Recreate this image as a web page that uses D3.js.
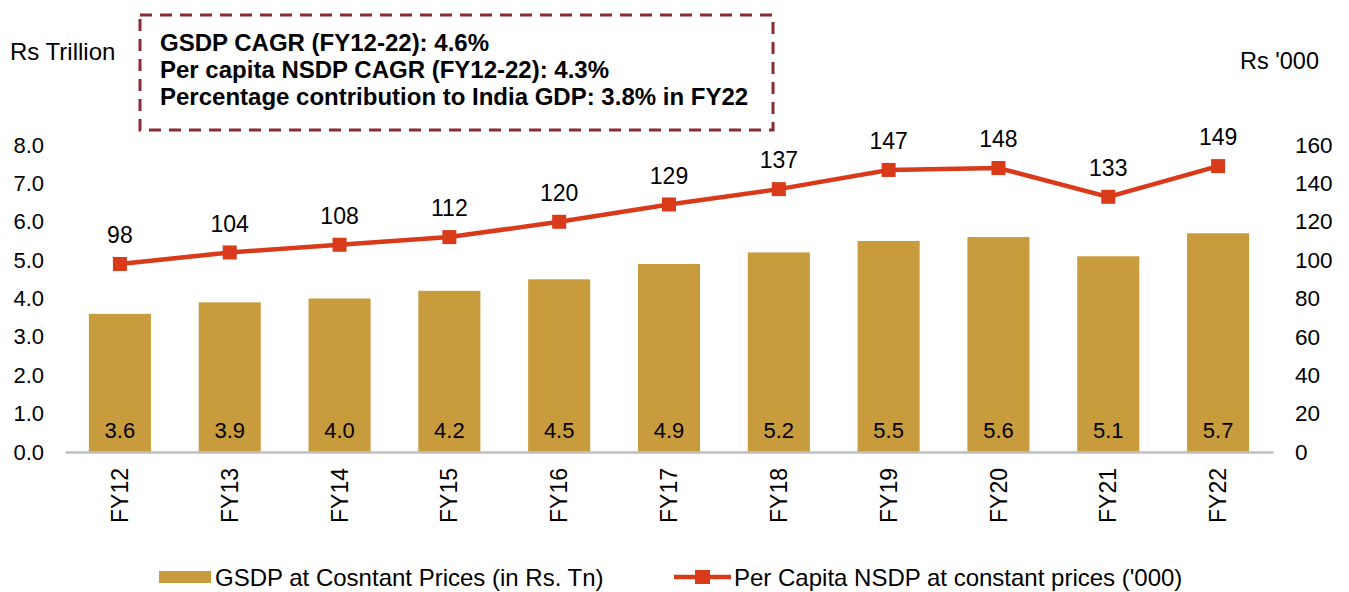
<!DOCTYPE html>
<html><head><meta charset="utf-8">
<script src="https://cdn.jsdelivr.net/npm/d3@7"></script>
<style>body{margin:0;background:#fff}svg{display:block;font-family:"Liberation Sans",Arial,sans-serif}</style>
</head><body><svg id="c" width="1349" height="592"></svg>
<script>
const categories = ["FY12","FY13","FY14","FY15","FY16","FY17","FY18","FY19","FY20","FY21","FY22"];
const gsdp = [3.6,3.9,4.0,4.2,4.5,4.9,5.2,5.5,5.6,5.1,5.7];
const perCapita = [98,104,108,112,120,129,137,147,148,133,149];
const leftTicks = [0,1,2,3,4,5,6,7,8];
const rightTicks = [0,20,40,60,80,100,120,140,160];
const boxLines = ["GSDP CAGR (FY12-22): 4.6%","Per capita NSDP CAGR (FY12-22): 4.3%","Percentage contribution to India GDP: 3.8% in FY22"];
const legendLabels = ["GSDP at Cosntant Prices (in Rs. Tn)","Per Capita NSDP at constant prices ('000)"];

const barColor = "#C89B3C", lineColor = "#D83A1A";
const svg = d3.select("#c");
const x = d3.scaleBand().domain(categories).range([65,1273]).paddingInner(0.435).paddingOuter(0.2175);
const yL = d3.scaleLinear().domain([0,8]).range([452,145]);
const yR = d3.scaleLinear().domain([0,160]).range([452,145]);

const la = svg.append("g").attr("transform","translate(44,0)").call(d3.axisLeft(yL).tickValues(leftTicks).tickFormat(d3.format(".1f")).tickSize(0).tickPadding(0));
la.select(".domain").remove();
la.selectAll("text").attr("font-size",22).attr("fill","#000").attr("font-family","Liberation Sans, Arial");
const ra = svg.append("g").attr("transform","translate(1295,0)").call(d3.axisRight(yR).tickValues(rightTicks).tickSize(0).tickPadding(0));
ra.select(".domain").remove();
ra.selectAll("text").attr("font-size",22.5).attr("fill","#000").attr("font-family","Liberation Sans, Arial");

svg.append("g").selectAll("rect").data(gsdp).join("rect")
  .attr("x",(d,i)=>x(categories[i])).attr("width",x.bandwidth())
  .attr("y",d=>yL(d)).attr("height",d=>yL(0)-yL(d)).attr("fill",barColor);
svg.append("g").selectAll("text").data(gsdp).join("text")
  .attr("x",(d,i)=>x(categories[i])+x.bandwidth()/2).attr("y",430)
  .attr("text-anchor","middle").attr("font-size",22).attr("dy","0.35em").text(d=>d3.format(".1f")(d));

const xa = svg.append("g").attr("transform","translate(0,452)").call(d3.axisBottom(x).tickSize(0).tickPadding(0));
xa.select(".domain").attr("stroke","#bfbfbf").attr("stroke-width",2.5);
xa.selectAll("text").attr("font-size",23).attr("fill","#000").attr("font-family","Liberation Sans, Arial")
  .attr("transform","rotate(-90)").attr("text-anchor","end").attr("x",-16).attr("y",0).attr("dy","0.35em");

const cx = (i)=>x(categories[i])+x.bandwidth()/2;
svg.append("path").datum(perCapita).attr("fill","none").attr("stroke",lineColor).attr("stroke-width",4.5)
  .attr("d",d3.line().x((d,i)=>cx(i)).y(d=>yR(d)));
svg.append("g").selectAll("rect").data(perCapita).join("rect")
  .attr("x",(d,i)=>cx(i)-7).attr("y",d=>yR(d)-7).attr("width",14).attr("height",14).attr("fill",lineColor);
svg.append("g").selectAll("text").data(perCapita).join("text")
  .attr("x",(d,i)=>cx(i)).attr("y",d=>yR(d)-29).attr("dy","0.35em").attr("text-anchor","middle").attr("font-size",23).text(d=>d);

svg.append("text").attr("x",10).attr("y",52).attr("dy","0.35em").attr("font-size",24).text("Rs Trillion");
svg.append("text").attr("x",1240).attr("y",61).attr("dy","0.35em").attr("font-size",23.5).text("Rs '000");

svg.append("rect").attr("x",140).attr("y",15).attr("width",633).attr("height",115).attr("fill","none")
  .attr("stroke","#8C2A33").attr("stroke-width",3).attr("stroke-dasharray","12,8");
svg.append("g").selectAll("text").data(boxLines).join("text")
  .attr("x",160).attr("y",(d,i)=>43+i*27).attr("dy","0.35em").attr("font-size",24).attr("font-weight","bold").text(d=>d);

svg.append("rect").attr("x",159).attr("y",571).attr("width",52).attr("height",12).attr("fill",barColor);
svg.append("text").attr("x",215).attr("y",578).attr("dy","0.35em").attr("font-size",24).text(legendLabels[0]);
svg.append("line").attr("x1",674).attr("x2",731).attr("y1",577).attr("y2",577).attr("stroke",lineColor).attr("stroke-width",4.5);
svg.append("rect").attr("x",695).attr("y",570).attr("width",15).attr("height",14).attr("fill",lineColor);
svg.append("text").attr("x",734).attr("y",578).attr("dy","0.35em").attr("font-size",24).text(legendLabels[1]);
</script></body></html>
